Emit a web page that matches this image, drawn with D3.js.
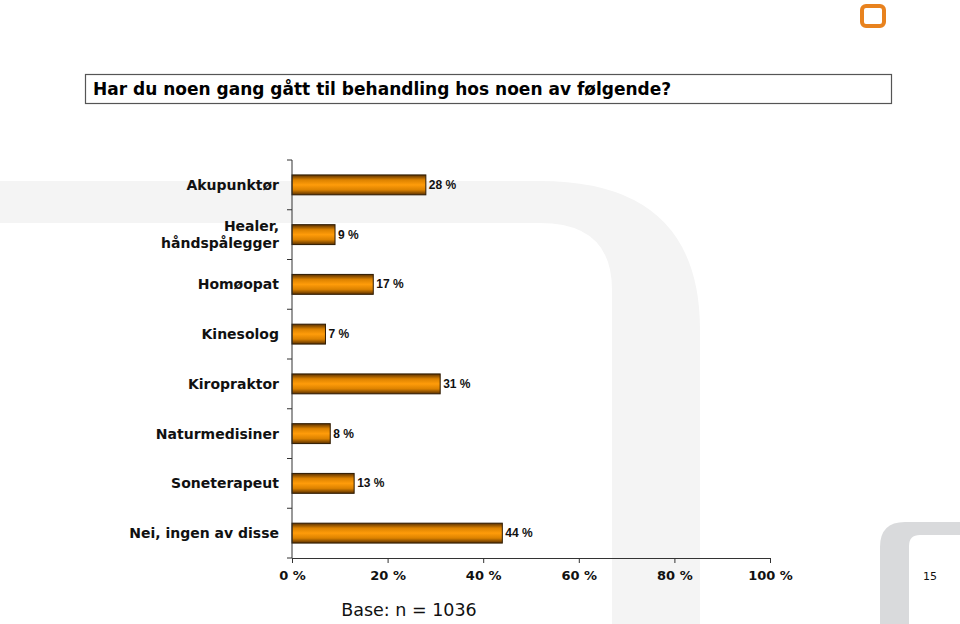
<!DOCTYPE html>
<html>
<head>
<meta charset="utf-8">
<script src="https://cdn.jsdelivr.net/npm/d3@7"></script>
<style>
  body { margin: 0; background: #fff; }
  svg { display: block; }
</style>
</head>
<body>
<div id="chart"></div>
<script>
// chart data
const categories = ["Akupunktør", "Healer, håndspålegger", "Homøopat", "Kinesolog",
  "Kiropraktor", "Naturmedisiner", "Soneterapeut", "Nei, ingen av disse"];
const values = [28, 9, 17, 7, 31, 8, 13, 44];
const xTicks = [0, 20, 40, 60, 80, 100];
const titleText = "Har du noen gang gått til behandling hos noen av følgende?";
const baseText = "Base: n = 1036";
const pageNumber = "15";

const W = 960, H = 624;
const margin = { top: 160, right: 190, bottom: 66, left: 292 };
const width = W - margin.left - margin.right;   // 478
const height = H - margin.top - margin.bottom;  // 398

const svg = d3.select("#chart").append("svg")
    .attr("width", W)
    .attr("height", H);

// gradient for the bars (dark edges, orange middle)
const defs = svg.append("defs");
const grad = defs.append("linearGradient")
    .attr("id", "barGrad")
    .attr("x1", 0).attr("y1", 0).attr("x2", 0).attr("y2", 1);
grad.append("stop").attr("offset", "0%").attr("stop-color", "#5a3000");
grad.append("stop").attr("offset", "25%").attr("stop-color", "#dc8200");
grad.append("stop").attr("offset", "50%").attr("stop-color", "#ff9c0a");
grad.append("stop").attr("offset", "75%").attr("stop-color", "#dc8200");
grad.append("stop").attr("offset", "100%").attr("stop-color", "#5a3000");

// background decoration: big faint "n"
svg.append("path")
    .attr("d", "M0,181 L540,181 Q700,181 700,330 L700,624 L612,624 L612,290 Q612,223 540,223 L0,223 Z")
    .attr("fill", "#f4f4f4");

// bottom right grey corner
svg.append("path")
    .attr("d", "M880,624 L880,547 Q880,522 905,522 L960,522 L960,535 L920,535 Q909,535 909,546 L909,624 Z")
    .attr("fill", "#d9dadc");

// orange logo square
svg.append("rect")
    .attr("x", 862).attr("y", 6)
    .attr("width", 22).attr("height", 20)
    .attr("rx", 4)
    .attr("fill", "none")
    .attr("stroke", "#e8821e")
    .attr("stroke-width", 4);

// title box
svg.append("rect")
    .attr("x", 85.5).attr("y", 74.5)
    .attr("width", 806).attr("height", 29)
    .attr("fill", "#fff")
    .attr("stroke", "#555")
    .attr("stroke-width", 1.2);
svg.append("text")
    .attr("x", 93).attr("y", 95)
    .attr("font-family", "DejaVu Sans")
    .attr("font-weight", "bold")
    .attr("font-size", "17px")
    .attr("fill", "#000")
    .text(titleText);

const g = svg.append("g")
    .attr("transform", `translate(${margin.left},${margin.top})`);

const x = d3.scaleLinear().domain([0, 100]).range([0, width]);
const y = d3.scaleBand().domain(categories).range([0, height]).paddingInner(0.6).paddingOuter(0.3);

// bars
g.selectAll("rect.bar")
    .data(categories)
    .enter()
    .append("rect")
    .attr("class", "bar")
    .attr("x", 0)
    .attr("y", d => y(d))
    .attr("width", (d, i) => x(values[i]))
    .attr("height", y.bandwidth())
    .attr("fill", "url(#barGrad)")
    .attr("stroke", "#2e1a00")
    .attr("stroke-width", 1);

// value labels
g.selectAll(".val")
    .data(categories)
    .enter()
    .append("text")
    .attr("class", "val")
    .attr("x", (d, i) => x(values[i]) + 3)
    .attr("y", d => y(d) + y.bandwidth() / 2 + 4)
    .attr("font-family", "Liberation Sans, Arial")
    .attr("font-weight", "bold")
    .attr("font-size", "12px")
    .attr("fill", "#111")
    .text((d, i) => values[i] + " %");

// y axis: ticks between the bands
const step = height / categories.length;
const yAxis = g.append("g").attr("class", "y-axis");
yAxis.append("line")
    .attr("x1", 0).attr("x2", 0).attr("y1", 0).attr("y2", height)
    .attr("stroke", "#333");
yAxis.selectAll(".yt")
    .data(d3.range(categories.length + 1))
    .enter()
    .append("line")
    .attr("x1", -5).attr("x2", 0)
    .attr("y1", d => d * step).attr("y2", d => d * step)
    .attr("stroke", "#333");

// category labels
yAxis.selectAll(".cat")
    .data(categories)
    .enter()
    .append("text")
    .attr("class", "cat")
    .attr("text-anchor", "end")
    .attr("font-family", "DejaVu Sans")
    .attr("font-weight", "bold")
    .attr("font-size", "14px")
    .attr("fill", "#111")
    .each(function(d) {
        const t = d3.select(this);
        const cy = y(d) + y.bandwidth() / 2;
        const parts = d === "Healer, håndspålegger" ? ["Healer,", "håndspålegger"] : [d];
        parts.forEach((p, k) => {
            t.append("tspan")
                .attr("x", -13)
                .attr("y", cy + 5 + (k - (parts.length - 1) / 2) * 17)
                .text(p);
        });
    });

// x axis
const xAxis = g.append("g")
    .attr("transform", `translate(0,${height})`)
    .call(d3.axisBottom(x).tickValues(xTicks).tickSize(5).tickSizeOuter(0).tickFormat(d => d + " %"));
xAxis.select(".domain").attr("stroke", "#333");
xAxis.selectAll(".tick line").attr("stroke", "#333");
xAxis.selectAll("text")
    .attr("dy", "1.05em")
    .style("font-family", "DejaVu Sans")
    .style("font-weight", "bold")
    .style("font-size", "13px")
    .attr("fill", "#111");

// base text
svg.append("text")
    .attr("x", 409).attr("y", 616)
    .attr("text-anchor", "middle")
    .attr("font-family", "DejaVu Sans")
    .attr("font-size", "17.5px")
    .attr("fill", "#111")
    .text(baseText);

// page number
svg.append("text")
    .attr("x", 930).attr("y", 580)
    .attr("text-anchor", "middle")
    .attr("font-family", "DejaVu Sans")
    .attr("font-size", "11px")
    .attr("fill", "#111")
    .text(pageNumber);
</script>
</body>
</html>
